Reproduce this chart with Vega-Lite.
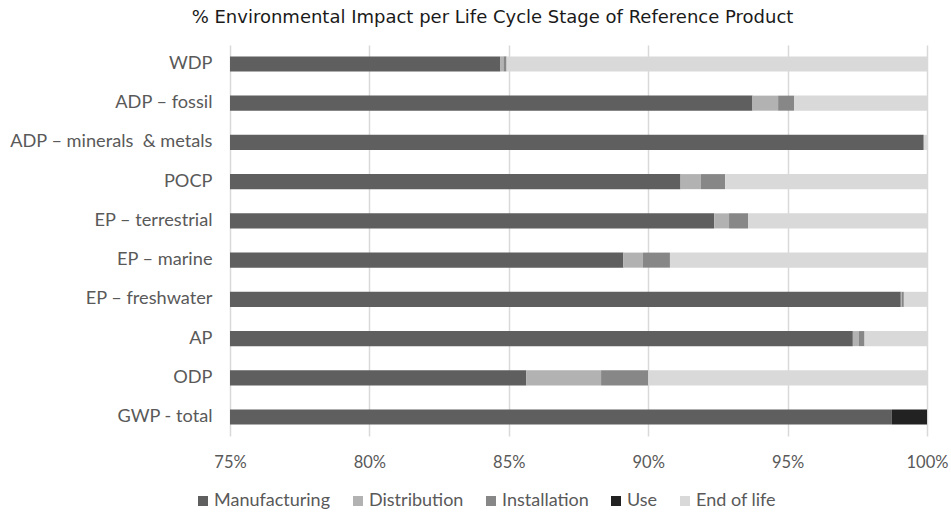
{
  "$schema": "https://vega.github.io/schema/vega-lite/v6.json",
  "width": 697,
  "height": 391,
  "autosize": {"type": "none"},
  "padding": {"left": 230, "top": 45, "right": 24, "bottom": 81},
  "background": "white",
  "title": {
    "text": "% Environmental Impact per Life Cycle Stage of Reference Product",
    "anchor": "middle",
    "frame": "group",
    "dx": -86,
    "offset": 18,
    "fontSize": 18,
    "font": "DejaVu Sans",
    "fontWeight": "normal",
    "color": "#1a1a1a"
  },
  "data": {
    "values": [
      {"cat": "WDP", "stage": "Manufacturing", "o": 1, "v": 0.8470},
      {"cat": "WDP", "stage": "Distribution", "o": 2, "v": 0.0011},
      {"cat": "WDP", "stage": "Installation", "o": 3, "v": 0.0011},
      {"cat": "WDP", "stage": "Use", "o": 4, "v": 0},
      {"cat": "WDP", "stage": "End of life", "o": 5, "v": 0.1508},
      {"cat": "ADP – fossil", "stage": "Manufacturing", "o": 1, "v": 0.9374},
      {"cat": "ADP – fossil", "stage": "Distribution", "o": 2, "v": 0.0092},
      {"cat": "ADP – fossil", "stage": "Installation", "o": 3, "v": 0.0057},
      {"cat": "ADP – fossil", "stage": "Use", "o": 4, "v": 0},
      {"cat": "ADP – fossil", "stage": "End of life", "o": 5, "v": 0.0477},
      {"cat": "ADP – minerals\u00a0 & metals", "stage": "Manufacturing", "o": 1, "v": 0.9986},
      {"cat": "ADP – minerals\u00a0 & metals", "stage": "Distribution", "o": 2, "v": 0},
      {"cat": "ADP – minerals\u00a0 & metals", "stage": "Installation", "o": 3, "v": 0.0003},
      {"cat": "ADP – minerals\u00a0 & metals", "stage": "Use", "o": 4, "v": 0},
      {"cat": "ADP – minerals\u00a0 & metals", "stage": "End of life", "o": 5, "v": 0.0011},
      {"cat": "POCP", "stage": "Manufacturing", "o": 1, "v": 0.9116},
      {"cat": "POCP", "stage": "Distribution", "o": 2, "v": 0.0073},
      {"cat": "POCP", "stage": "Installation", "o": 3, "v": 0.0087},
      {"cat": "POCP", "stage": "Use", "o": 4, "v": 0},
      {"cat": "POCP", "stage": "End of life", "o": 5, "v": 0.0724},
      {"cat": "EP – terrestrial", "stage": "Manufacturing", "o": 1, "v": 0.9237},
      {"cat": "EP – terrestrial", "stage": "Distribution", "o": 2, "v": 0.0053},
      {"cat": "EP – terrestrial", "stage": "Installation", "o": 3, "v": 0.0068},
      {"cat": "EP – terrestrial", "stage": "Use", "o": 4, "v": 0},
      {"cat": "EP – terrestrial", "stage": "End of life", "o": 5, "v": 0.0642},
      {"cat": "EP – marine", "stage": "Manufacturing", "o": 1, "v": 0.8911},
      {"cat": "EP – marine", "stage": "Distribution", "o": 2, "v": 0.0070},
      {"cat": "EP – marine", "stage": "Installation", "o": 3, "v": 0.0097},
      {"cat": "EP – marine", "stage": "Use", "o": 4, "v": 0},
      {"cat": "EP – marine", "stage": "End of life", "o": 5, "v": 0.0922},
      {"cat": "EP – freshwater", "stage": "Manufacturing", "o": 1, "v": 0.9906},
      {"cat": "EP – freshwater", "stage": "Distribution", "o": 2, "v": 0.0004},
      {"cat": "EP – freshwater", "stage": "Installation", "o": 3, "v": 0.0007},
      {"cat": "EP – freshwater", "stage": "Use", "o": 4, "v": 0},
      {"cat": "EP – freshwater", "stage": "End of life", "o": 5, "v": 0.0083},
      {"cat": "AP", "stage": "Manufacturing", "o": 1, "v": 0.9734},
      {"cat": "AP", "stage": "Distribution", "o": 2, "v": 0.0022},
      {"cat": "AP", "stage": "Installation", "o": 3, "v": 0.0020},
      {"cat": "AP", "stage": "Use", "o": 4, "v": 0},
      {"cat": "AP", "stage": "End of life", "o": 5, "v": 0.0224},
      {"cat": "ODP", "stage": "Manufacturing", "o": 1, "v": 0.8563},
      {"cat": "ODP", "stage": "Distribution", "o": 2, "v": 0.0268},
      {"cat": "ODP", "stage": "Installation", "o": 3, "v": 0.0169},
      {"cat": "ODP", "stage": "Use", "o": 4, "v": 0},
      {"cat": "ODP", "stage": "End of life", "o": 5, "v": 0.1000},
      {"cat": "GWP - total", "stage": "Manufacturing", "o": 1, "v": 0.9874},
      {"cat": "GWP - total", "stage": "Distribution", "o": 2, "v": 0},
      {"cat": "GWP - total", "stage": "Installation", "o": 3, "v": 0},
      {"cat": "GWP - total", "stage": "Use", "o": 4, "v": 0.0126},
      {"cat": "GWP - total", "stage": "End of life", "o": 5, "v": 0}
    ]
  },
  "mark": {"type": "bar", "clip": true},
  "encoding": {
    "y": {
      "field": "cat",
      "type": "nominal",
      "sort": null,
      "title": null,
      "scale": {"paddingInner": 0.616, "paddingOuter": 0.29},
      "axis": {
        "domain": false,
        "ticks": false,
        "labelPadding": 18,
        "labelFontSize": 18.2,
        "labelFont": "Lato",
        "labelColor": "#595959",
        "labelLimit": 300
      }
    },
    "x": {
      "field": "v",
      "type": "quantitative",
      "stack": "zero",
      "title": null,
      "scale": {"domain": [0.75, 1], "nice": false, "zero": false},
      "axis": {
        "format": ".0%",
        "values": [0.75, 0.8, 0.85, 0.9, 0.95, 1],
        "labelFlush": false,
        "domain": false,
        "ticks": false,
        "grid": true,
        "gridColor": "#d9d9d9",
        "gridWidth": 1.5,
        "labelPadding": 18,
        "labelFontSize": 16.5,
        "labelFont": "Lato",
        "labelColor": "#595959"
      }
    },
    "order": {"field": "o", "type": "quantitative"},
    "color": {
      "field": "stage",
      "type": "nominal",
      "title": null,
      "scale": {
        "domain": ["Manufacturing", "Distribution", "Installation", "Use", "End of life"],
        "range": ["#5f5f5f", "#b2b2b2", "#878787", "#222222", "#d9d9d9"]
      },
      "legend": {
        "orient": "none",
        "direction": "horizontal",
        "legendX": -36,
        "legendY": 447,
        "symbolType": "square",
        "symbolSize": 100,
        "symbolStrokeWidth": 0,
        "labelFontSize": 18,
        "labelFont": "Lato",
        "labelColor": "#595959",
        "columnPadding": 18,
        "labelOffset": 2
      }
    }
  },
  "config": {"view": {"stroke": null}}
}
